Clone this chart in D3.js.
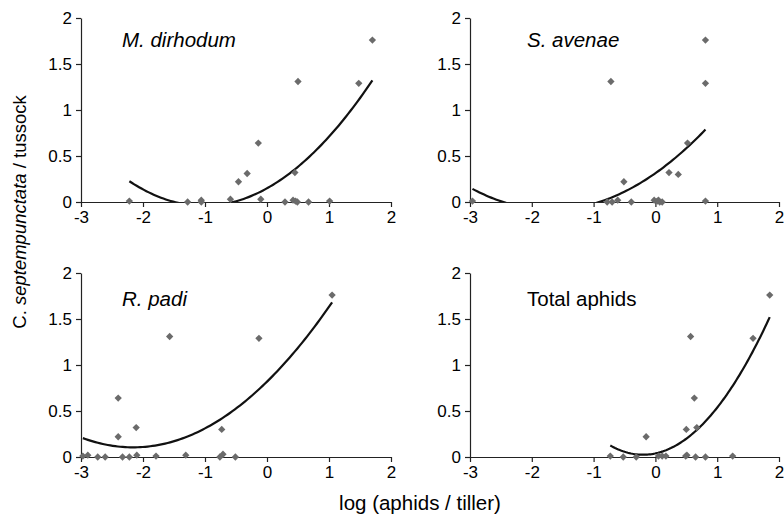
<!DOCTYPE html>
<html>
<head>
<meta charset="utf-8">
<script src="https://cdn.jsdelivr.net/npm/d3@7"></script>
<style>
    body { margin: 0; background: #fff; }
    text { font-family: "Liberation Sans", Arial, sans-serif; fill: #000; }
</style>
</head>
<body>
<script>
// panel names
var panelNames = ['M. dirhodum', 'S. avenae', 'R. padi', 'Total aphids'];
var panelItalic = [true, true, true, false];

// log (aphids / tiller) and C. septempunctata / tussock, one pair per panel
var mdX = [-2.22, -1.28, -1.06, -1.06, -0.59, -0.46, -0.32, -0.14, -0.10, 0.29, 0.42, 0.45, 0.46, 0.49, 0.50, 0.67, 1.01, 1.48, 1.70];
var mdY = [0.01, 0, 0.02, 0, 0.03, 0.22, 0.31, 0.64, 0.03, 0, 0.02, 0.32, 0.01, 0, 1.31, 0, 0.01, 1.29, 1.76];

var saX = [-2.96, -0.72, -0.78, -0.70, -0.61, -0.51, -0.39, -0.02, 0.03, 0.05, 0.07, 0.11, 0.22, 0.37, 0.52, 0.81, 0.81, 0.81];
var saY = [0.01, 1.31, 0, 0, 0.02, 0.22, 0, 0.02, 0.01, 0.02, 0, 0, 0.32, 0.30, 0.64, 1.76, 1.29, 0.01];

var rpX = [-2.97, -2.89, -2.73, -2.61, -2.40, -2.40, -2.33, -2.22, -2.11, -2.10, -1.79, -1.57, -1.31, -0.76, -0.73, -0.71, -0.51, -0.13, 1.05];
var rpY = [0.01, 0.02, 0, 0, 0.22, 0.64, 0, 0, 0.32, 0.02, 0.01, 1.31, 0.02, 0, 0.30, 0.03, 0, 1.29, 1.76];

var taX = [-0.73, -0.52, -0.31, -0.15, 0.05, 0.11, 0.17, 0.49, 0.51, 0.50, 0.57, 0.63, 0.65, 0.67, 0.81, 1.25, 1.58, 1.85];
var taY = [0.01, 0, 0, 0.22, 0.01, 0.01, 0.01, 0.01, 0.02, 0.30, 1.31, 0.64, 0, 0.32, 0, 0.01, 1.29, 1.76];

// quadratic trend lines: [a, b, c] for y = a x^2 + b x + c
var mdTrend = [0.185, 0.376, 0.149];
var saTrend = [0.140, 0.472, 0.313];
var rpTrend = [0.153, 0.661, 0.819];
var taTrend = [0.356, 0.142, 0.039];

var xTicks = [-3, -2, -1, 0, 1, 2];
var yTicks = [0, 0.5, 1, 1.5, 2];

window.onload = function() {
    var w = 784, h = 523;

    var svg = d3.select('body')
        .append('svg')
        .attr('width', w)
        .attr('height', h);

    var panels = [
        { xs: mdX, ys: mdY, trend: mdTrend, left: 81, right: 391, top: 18, bottom: 202, tx: 41, ty: 29 },
        { xs: saX, ys: saY, trend: saTrend, left: 470, right: 779, top: 18, bottom: 202, tx: 57, ty: 29 },
        { xs: rpX, ys: rpY, trend: rpTrend, left: 81, right: 391, top: 273, bottom: 457, tx: 41, ty: 33 },
        { xs: taX, ys: taY, trend: taTrend, left: 470, right: 779, top: 273, bottom: 457, tx: 57, ty: 33 }
    ];

    panels.forEach(function(p, i) {
        var x = d3.scaleLinear()
            .domain([-3, 2])
            .range([p.left, p.right]);
        var y = d3.scaleLinear()
            .domain([0, 2])
            .range([p.bottom, p.top]);

        var g = svg.append('g').attr('class', 'panel');

        svg.append('clipPath')
            .attr('id', 'clip' + i)
            .append('rect')
            .attr('x', p.left)
            .attr('y', p.top)
            .attr('width', p.right - p.left)
            .attr('height', p.bottom - p.top);

        // axes
        var xAxis = d3.axisBottom(x)
            .tickValues(xTicks)
            .tickSize(5)
            .tickSizeOuter(0)
            .tickPadding(4)
            .tickFormat(d3.format('d'));
        var yAxis = d3.axisLeft(y)
            .tickValues(yTicks)
            .tickSize(5)
            .tickSizeOuter(0)
            .tickPadding(4)
            .tickFormat(function(d) { return String(d); });

        var gx = g.append('g')
            .attr('transform', 'translate(0,' + p.bottom + ')')
            .call(xAxis);
        var gy = g.append('g')
            .attr('transform', 'translate(' + p.left + ',0)')
            .call(yAxis);

        [gx, gy].forEach(function(a) {
            a.select('.domain').attr('stroke', '#222').attr('stroke-width', 1.2);
            a.selectAll('.tick line').attr('stroke', '#222').attr('stroke-width', 1.2);
            a.selectAll('.tick text')
                .attr('font-family', '"Liberation Sans", Arial, sans-serif')
                .attr('font-size', 17)
                .attr('fill', '#000');
        });
        gx.selectAll('.tick text').text(function(d) { return d < 0 ? '-' + Math.abs(d) : d; });

        // trend line
        var t = p.trend;
        var xmin = d3.min(p.xs), xmax = d3.max(p.xs);
        var samples = d3.range(0, 101).map(function(k) {
            var xv = xmin + (xmax - xmin) * k / 100;
            return [xv, t[0] * xv * xv + t[1] * xv + t[2]];
        });
        g.append('path')
            .datum(samples)
            .attr('clip-path', 'url(#clip' + i + ')')
            .attr('fill', 'none')
            .attr('stroke', '#111')
            .attr('stroke-width', 2.2)
            .attr('d', d3.line()
                .x(function(d) { return x(d[0]); })
                .y(function(d) { return y(d[1]); }));

        // points
        var pts = p.xs.map(function(v, k) { return [v, p.ys[k]]; });
        g.selectAll('.pt')
            .data(pts)
            .enter()
            .append('path')
            .attr('class', 'pt')
            .attr('d', d3.symbol().type(d3.symbolDiamond2).size(34))
            .attr('transform', function(d) {
                return 'translate(' + x(d[0]) + ',' + y(d[1]) + ')';
            })
            .attr('fill', '#6b6b6b');

        // panel title
        g.append('text')
            .attr('x', p.left + p.tx)
            .attr('y', p.top + p.ty)
            .attr('font-size', 20.5)
            .style('font-style', panelItalic[i] ? 'italic' : 'normal')
            .text(panelNames[i]);
    });

    // axis titles
    svg.append('text')
        .attr('x', 420)
        .attr('y', 510)
        .attr('text-anchor', 'middle')
        .attr('font-size', 20.5)
        .text('log (aphids / tiller)');

    var yl = svg.append('text')
        .attr('transform', 'translate(26,212) rotate(-90)')
        .attr('text-anchor', 'middle')
        .attr('font-size', 18.5);
    yl.append('tspan').text('C. ');
    yl.append('tspan').style('font-style', 'italic').text('septempunctata');
    yl.append('tspan').text(' / tussock');
};
</script>
</body>
</html>
